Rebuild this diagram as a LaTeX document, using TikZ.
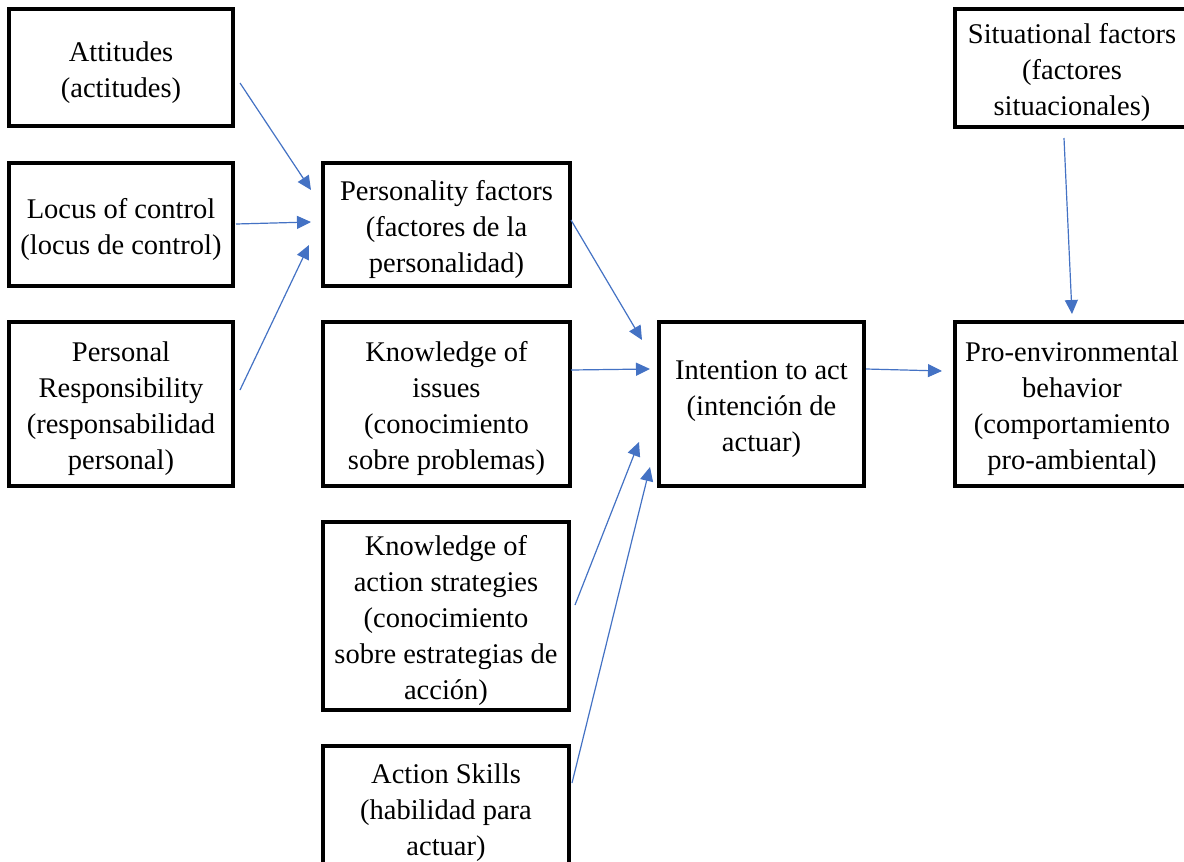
\documentclass[tikz,border=0pt]{standalone}
\usepackage{fontspec}
\setmainfont{Liberation Serif}
\usetikzlibrary{calc,arrows.meta}
\definecolor{arrowblue}{HTML}{4472C4}
\newcommand{\tp}{\rule{0pt}{30pt}}
\tikzset{
  box/.style={draw=black, line width=3.6pt, rectangle, outer sep=0pt, inner sep=0pt,
    align=center, font=\fontsize{28.5}{36}\selectfont},
  conn/.style={draw=arrowblue, line width=1.2pt, -{Triangle[length=14pt,width=13pt]}},
}
\begin{document}
\begin{tikzpicture}[x=1pt,y=-1pt]
\useasboundingbox[fill=white] (0,0) rectangle (1184,862);
\node[box, minimum width=224pt, minimum height=117pt] (att) at (121,67.5) {\tp Attitudes\\(actitudes)};
\node[box, minimum width=224pt, minimum height=123pt] (loc) at (121,224.5) {\tp Locus of control\\(locus de control)};
\node[box, minimum width=224pt, minimum height=164pt] (pr) at (121,404) {\tp Personal\\Responsibility\\(responsabilidad\\personal)};
\node[box, minimum width=247pt, minimum height=123pt] (pers) at (446.5,224.5) {\tp Personality factors\\(factores de la\\personalidad)};
\node[box, minimum width=247pt, minimum height=164pt] (kis) at (446.5,404) {\tp Knowledge of\\issues\\(conocimiento\\sobre problemas)};
\node[box, minimum width=246pt, minimum height=188pt] (kas) at (446,616) {\tp Knowledge of\\action strategies\\(conocimiento\\sobre estrategias de\\acción)};
\node[box, minimum width=246pt, minimum height=124pt] (ask) at (446,808) {\tp Action Skills\\(habilidad para\\actuar)};
\node[box, minimum width=205pt, minimum height=164pt] (int) at (761.5,404) {\tp Intention to act\\(intención de\\actuar)};
\node[box, minimum width=234pt, minimum height=118pt] (sit) at (1072,68) {\tp Situational factors\\(factores\\situacionales)};
\node[box, minimum width=234pt, minimum height=164pt] (pro) at (1072,404) {\tp Pro-environmental\\behavior\\(comportamiento\\pro-ambiental)};

\draw[conn] ($(att.east)+(7,15.5)$) -- ($(pers.west)+(-12,-34.5)$);
\draw[conn] ($(loc.east)+(3,-0.5)$) -- ($(pers.west)+(-12,-2.5)$);
\draw[conn] ($(pr.east)+(7,-14)$) -- ($(pers.west)+(-14,20.5)$);
\draw[conn] ($(pers.east)+(1,-4.5)$) -- ($(int.west)+(-17,-64)$);
\draw[conn] ($(kis.east)+(1,-34)$) -- ($(int.west)+(-9,-35)$);
\draw[conn] ($(kas.east)+(6,-11)$) -- ($(int.west)+(-20,38)$);
\draw[conn] ($(ask.east)+(3,-25)$) -- ($(int.west)+(-9,63)$);
\draw[conn] ($(int.east)+(2,-35)$) -- ($(pro.west)+(-13,-33)$);
\draw[conn] ($(sit.south)+(-8,11)$) -- ($(pro.north)+(0,-8)$);
\end{tikzpicture}
\end{document}
